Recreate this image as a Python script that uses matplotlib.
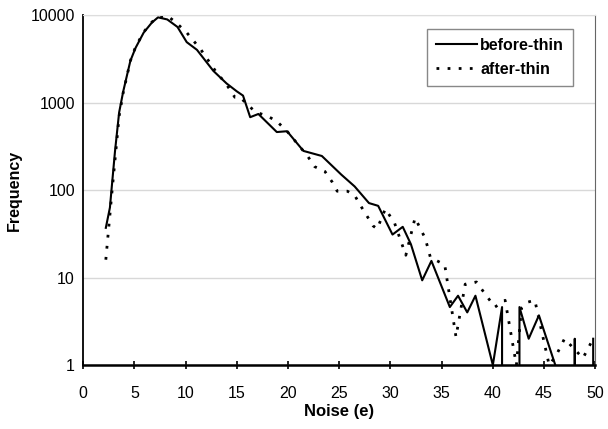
import matplotlib
matplotlib.use("Agg")
import matplotlib.pyplot as plt

plt.rcParams.update({"font.family": ["Liberation Sans", "DejaVu Sans"], "font.size": 11.5})

# before-thin (solid)
before_x = [2.2, 2.6, 2.8, 3.1, 3.5, 3.9, 4.6, 5.1, 5.9, 6.7, 7.3, 8.2, 9.2, 10.1,
            11.1, 12.7, 14.0, 15.0, 15.6, 16.3, 17.1, 18.9, 19.9, 21.5, 23.3, 25.2,
            26.5, 27.9, 28.8, 30.2, 31.2, 32.0, 33.1, 34.0, 35.8, 36.6, 37.5, 38.3,
            40.0, 40.9, 41.7, 42.6, 43.5, 44.5, 46.1, 47.0, 48.0, 48.9, 49.8]
before_y = [37, 63, 115, 280, 770, 1340, 3000, 4200, 6300, 8200, 9400, 8900, 7300, 4900,
            4000, 2300, 1650, 1340, 1200, 680, 740, 460, 470, 280, 245, 150,
            110, 71, 66, 31, 38, 24, 9.3, 15.5, 4.6, 6.2, 4.0, 6.2,
            1, 4.6, 0, 4.6, 2, 3.7, 1, 0, 2, 0, 2]

# after-thin (dotted)
after_x = [2.2, 2.8, 3.5, 3.9, 4.6, 5.1, 5.9, 6.7, 7.3, 8.2, 9.0, 10.1, 11.5, 12.9,
           14.0, 14.8, 15.3, 16.8, 18.0, 18.9, 19.9, 21.9, 22.6, 23.6, 24.3, 24.8,
           25.8, 26.5, 27.2, 28.3, 28.7, 29.5, 30.4, 31.5, 32.4, 33.4, 33.9, 35.3,
           36.4, 37.3, 38.4, 39.2, 40.2, 41.2, 42.3, 42.8, 43.3, 44.1, 45.5, 46.2,
           47.0, 48.8, 49.8]
after_y = [16, 95, 700, 1300, 3000, 4300, 6400, 8300, 9500, 9800, 8300, 6300, 4000, 2300,
           1600, 1150, 1150, 780, 700, 610, 470, 245, 185, 163, 124, 97,
           97, 87, 63, 39, 36, 61, 42, 18, 48, 28, 17, 14,
           2.1, 8.4, 8.9, 6.6, 4.6, 5.5, 1, 4.5, 5.2, 5.5, 1, 1.3,
           2, 1.2, 2]

x_ticks = [0, 5, 10, 15, 20, 25, 30, 35, 40, 45, 50]
y_ticks = [1, 10, 100, 1000, 10000]

fig = plt.figure(figsize=(6.08, 4.29), dpi=100)
ax = fig.add_axes([0.137, 0.149, 0.842, 0.816])

ax.plot(before_x, before_y, color="black", lw=1.5, label="before-thin")
ax.plot(after_x, after_y, color="black", lw=2.0, ls=(0, (1, 3)), label="after-thin")

ax.set_yscale("log", nonpositive="clip")
ax.set_xlim(0, 50)
ax.set_ylim(1, 10000)
ax.set_xticks(x_ticks)
ax.set_yticks(y_ticks)
ax.set_yticklabels([str(v) for v in y_ticks])
ax.minorticks_off()
ax.grid(True, axis="y", color="#d8d8d8", lw=1)
ax.set_axisbelow(True)

ax.tick_params(axis="x", direction="inout", length=6, width=1.2, pad=12)
ax.tick_params(axis="y", direction="in", length=0, pad=6)
for s in ("left", "bottom"):
    ax.spines[s].set_color("black")
ax.spines["left"].set_linewidth(1.3)
ax.spines["bottom"].set_linewidth(1.8)
ax.spines["top"].set_color("#dddddd")
ax.spines["right"].set_color("#666666")

ax.set_xlabel("Noise (e)", fontweight="bold", fontsize=12, labelpad=2)
ax.set_ylabel("Frequency", fontweight="bold", fontsize=11.5, labelpad=6)

leg = ax.legend(loc="upper right", bbox_to_anchor=(0.972, 0.982), fancybox=False,
                edgecolor="#888888", framealpha=1, handlelength=2.6, handletextpad=0.2,
                borderpad=0.55, labelspacing=0.55, prop={"weight": "bold", "size": 11.5})
leg.get_frame().set_linewidth(1.0)

fig.savefig("out.png", dpi=100)
